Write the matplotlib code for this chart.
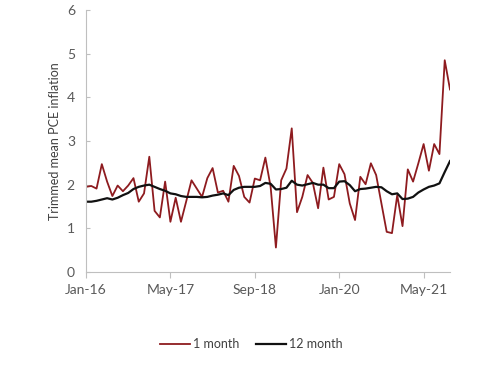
import matplotlib.pyplot as plt
import numpy as np
import pandas as pd

plt.rcParams['font.family'] = ['Lato', 'DejaVu Sans']

# monthly, Jan-16 .. Oct-21
months = pd.date_range('2016-01-01', periods=70, freq='MS')

one_month = [1.95, 1.97, 1.91, 2.47, 2.07, 1.74, 1.98, 1.85, 1.98, 2.15,
             1.61, 1.80, 2.64, 1.40, 1.25, 2.07, 1.15, 1.70, 1.15, 1.62,
             2.10, 1.91, 1.72, 2.15, 2.38, 1.82, 1.86, 1.61, 2.43, 2.20,
             1.72, 1.59, 2.14, 2.10, 2.62, 1.95, 0.56, 2.10, 2.37, 3.29,
             1.37, 1.72, 2.22, 2.04, 1.46, 2.39, 1.66, 1.72, 2.47, 2.24,
             1.57, 1.19, 2.18, 2.01, 2.49, 2.22, 1.57, 0.92, 0.89, 1.76,
             1.05, 2.35, 2.07, 2.49, 2.93, 2.32, 2.93, 2.70, 4.85, 4.18]

twelve_month = [1.61, 1.61, 1.63, 1.66, 1.69, 1.66, 1.70, 1.76, 1.81, 1.90,
                1.95, 1.98, 2.00, 1.95, 1.90, 1.86, 1.80, 1.78, 1.74, 1.72,
                1.72, 1.72, 1.71, 1.72, 1.75, 1.77, 1.80, 1.76, 1.88, 1.93,
                1.95, 1.95, 1.95, 1.97, 2.04, 2.02, 1.89, 1.90, 1.93, 2.09,
                2.00, 1.98, 2.01, 2.04, 2.00, 2.00, 1.92, 1.92, 2.07, 2.08,
                1.99, 1.85, 1.90, 1.91, 1.93, 1.95, 1.94, 1.85, 1.78, 1.80,
                1.67, 1.68, 1.72, 1.82, 1.89, 1.95, 1.98, 2.03, 2.29, 2.54]

x = np.arange(len(months))
tick_pos = x[::16]
tick_labels = [m.strftime('%b-%y') for m in months[::16]]

fig = plt.figure(figsize=(5, 3.65), dpi=100)
ax = fig.add_axes([0.172, 0.2548, 0.728, 0.7178])

ax.plot(x, one_month, color='#8e1b1f', lw=1.3, label='1 month')
ax.plot(x, twelve_month, color='#111111', lw=1.6, label='12 month')

ax.set_xlim(0, 69)
ax.set_ylim(0, 6)
ax.set_yticks(range(0, 7))
ax.set_xticks(tick_pos)
ax.set_xticklabels(tick_labels)
ax.set_ylabel('Trimmed mean PCE inflation', fontsize=9, color='#404040', labelpad=4)

for s in ['top', 'right']:
    ax.spines[s].set_visible(False)
for s in ['left', 'bottom']:
    ax.spines[s].set_color('#bfbfbf')
    ax.spines[s].set_linewidth(0.8)
ax.tick_params(axis='y', direction='in', length=3, color='#bfbfbf',
               labelsize=10, labelcolor='#595959', pad=8)
ax.tick_params(axis='x', direction='out', length=4, color='#bfbfbf',
               labelsize=10, labelcolor='#595959', pad=5)

fig.legend(loc='center', bbox_to_anchor=(0.503, 0.057), ncol=2, frameon=False,
           fontsize=9, labelcolor='#404040', handlelength=2.4,
           handletextpad=0.25, columnspacing=1.3)

fig.savefig('out.png', dpi=100)
